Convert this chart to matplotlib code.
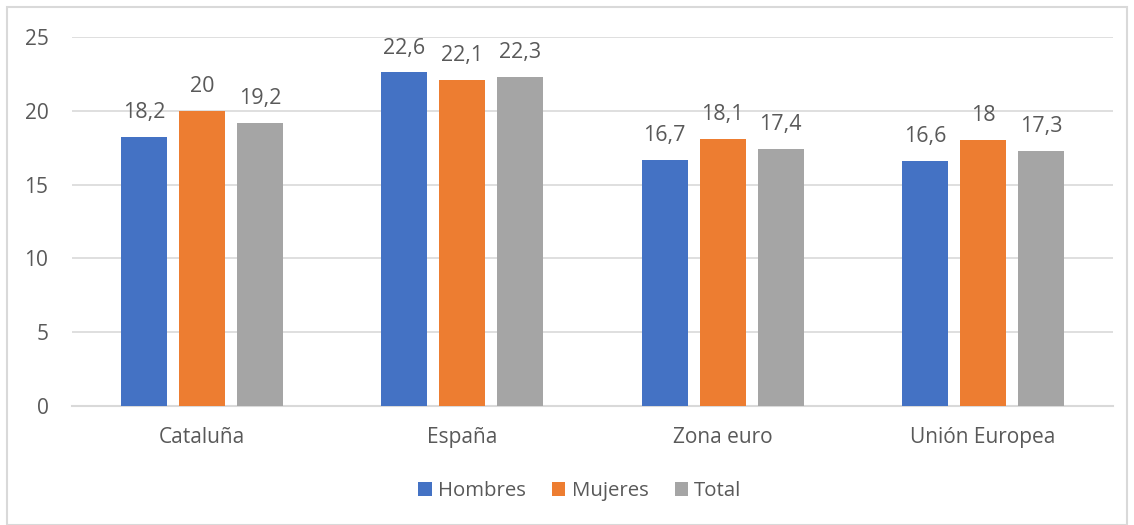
import matplotlib.pyplot as plt
from matplotlib.patches import Rectangle
import numpy as np

categories = ["Cataluña", "España", "Zona euro", "Unión Europea"]
series = ["Hombres", "Mujeres", "Total"]
hombres = [18.2, 22.6, 16.7, 16.6]
mujeres = [20, 22.1, 18.1, 18]
total = [19.2, 22.3, 17.4, 17.3]
labels_h = ["18,2", "22,6", "16,7", "16,6"]
labels_m = ["20", "22,1", "18,1", "18"]
labels_t = ["19,2", "22,3", "17,4", "17,3"]
colors = ["#4472C4", "#ED7D31", "#A5A5A5"]

plt.rcParams['font.family'] = ['Open Sans', 'DejaVu Sans']
txt = "#595959"

fig = plt.figure(figsize=(11.34, 5.25), dpi=100)
fig.patches.append(Rectangle((7/1134, 0), 1 - 14/1134, 1 - 7/525, transform=fig.transFigure,
                             fill=False, edgecolor="#D9D9D9", linewidth=1.5))
ax = fig.add_axes([72/1134, 1 - 406/525, (1113 - 72)/1134, (406 - 37)/525])

x = np.arange(len(categories))
w = 46/260
step = 58/260
for i, (vals, labs) in enumerate(zip([hombres, mujeres, total], [labels_h, labels_m, labels_t])):
    bars = ax.bar(x + (i - 1)*step, vals, w, color=colors[i], label=series[i], zorder=3)
    ax.bar_label(bars, labels=labs, padding=10, fontsize=15.5, color=txt)

ax.set_xlim(-0.5, 3.5)
ax.set_ylim(0, 25)
ax.set_yticks(range(0, 26, 5))
ax.set_xticks(x)
ax.set_xticklabels(categories)
ax.grid(axis='y', color="#D9D9D9", linewidth=1.2, zorder=0)
for s in ["top", "right", "left"]:
    ax.spines[s].set_visible(False)
ax.spines["bottom"].set_color("#D9D9D9")
ax.spines["bottom"].set_linewidth(1.5)
ax.tick_params(length=0, labelsize=15, colors=txt)
ax.tick_params(axis='y', pad=17)
ax.tick_params(axis='x', pad=15)

ax.legend(loc='center', bbox_to_anchor=(0.488, -0.23), ncol=3, frameon=False, fontsize=14.7,
          labelcolor=txt, handlelength=0.65, handleheight=0.65, handletextpad=0.3, columnspacing=1.3)

fig.savefig("out.png", dpi=100)
